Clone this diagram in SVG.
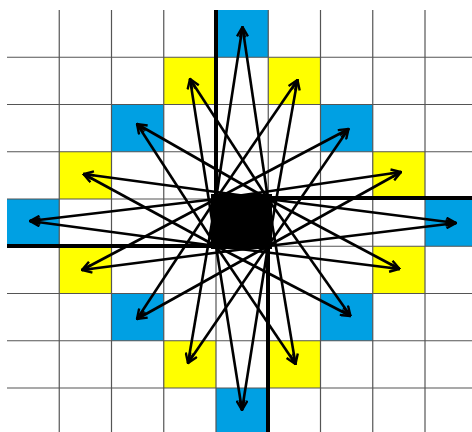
<svg xmlns="http://www.w3.org/2000/svg" width="472" height="432" viewBox="0 0 472 432">
<style>
.grid line{stroke:#555;stroke-width:1.2}
.thick{stroke:#000;stroke-width:4}
.blue{fill:#00A0E3}
.yellow{fill:#FFFF00}
.arr line{stroke:#000;stroke-width:2.6;marker-end:url(#ah)}
</style>
<defs>
<marker id="ah" viewBox="0 0 12 10" refX="11" refY="5" markerWidth="12" markerHeight="10" orient="auto" markerUnits="userSpaceOnUse">
<path d="M1,1 L11,5 L1,9" fill="none" stroke="#000" stroke-width="2.4"/>
</marker>
</defs>
<rect width="472" height="432" fill="#fff"/>
<g id="cells">
<g id="c-0-m4"><rect class="blue" x="216" y="10" width="52.25" height="47.25"/></g>
<g id="c-1-m3"><rect class="yellow" x="268.25" y="57.25" width="52.25" height="47.25"/></g>
<g id="c-2-m2"><rect class="blue" x="320.5" y="104.5" width="52.25" height="47.25"/></g>
<g id="c-3-m1"><rect class="yellow" x="372.75" y="151.75" width="52.25" height="47.25"/></g>
<g id="c-4-0"><rect class="blue" x="425" y="199" width="52.25" height="47.25"/></g>
<g id="c-3-1"><rect class="yellow" x="372.75" y="246.25" width="52.25" height="47.25"/></g>
<g id="c-2-2"><rect class="blue" x="320.5" y="293.5" width="52.25" height="47.25"/></g>
<g id="c-1-3"><rect class="yellow" x="268.25" y="340.75" width="52.25" height="47.25"/></g>
<g id="c-0-4"><rect class="blue" x="216" y="388" width="52.25" height="47.25"/></g>
<g id="c-m1-3"><rect class="yellow" x="163.75" y="340.75" width="52.25" height="47.25"/></g>
<g id="c-m2-2"><rect class="blue" x="111.5" y="293.5" width="52.25" height="47.25"/></g>
<g id="c-m3-1"><rect class="yellow" x="59.25" y="246.25" width="52.25" height="47.25"/></g>
<g id="c-m4-0"><rect class="blue" x="7" y="199" width="52.25" height="47.25"/></g>
<g id="c-m3-m1"><rect class="yellow" x="59.25" y="151.75" width="52.25" height="47.25"/></g>
<g id="c-m2-m2"><rect class="blue" x="111.5" y="104.5" width="52.25" height="47.25"/></g>
<g id="c-m1-m3"><rect class="yellow" x="163.75" y="57.25" width="52.25" height="47.25"/></g>
</g>
<g class="grid">
<line x1="59.25" y1="10" x2="59.25" y2="432"/>
<line x1="111.5" y1="10" x2="111.5" y2="432"/>
<line x1="163.75" y1="10" x2="163.75" y2="432"/>
<line x1="216" y1="10" x2="216" y2="432"/>
<line x1="268.25" y1="10" x2="268.25" y2="432"/>
<line x1="320.5" y1="10" x2="320.5" y2="432"/>
<line x1="372.75" y1="10" x2="372.75" y2="432"/>
<line x1="425" y1="10" x2="425" y2="432"/>
<line x1="7" y1="57.25" x2="472" y2="57.25"/>
<line x1="7" y1="104.5" x2="472" y2="104.5"/>
<line x1="7" y1="151.75" x2="472" y2="151.75"/>
<line x1="7" y1="199" x2="472" y2="199"/>
<line x1="7" y1="246.25" x2="472" y2="246.25"/>
<line x1="7" y1="293.5" x2="472" y2="293.5"/>
<line x1="7" y1="340.75" x2="472" y2="340.75"/>
<line x1="7" y1="388" x2="472" y2="388"/>
</g>
<g id="thick-lines">
<line class="thick" x1="216" y1="10" x2="216" y2="199"/>
<line class="thick" x1="268" y1="198" x2="472" y2="198"/>
<line class="thick" x1="268" y1="246" x2="268" y2="432"/>
<line class="thick" x1="7" y1="246" x2="216" y2="246"/>
</g>
<g id="center"><rect x="211" y="194" width="61" height="55" fill="#000"/></g>
<g id="connectors" class="arr">
<line x1="216" y1="199" x2="242.5" y2="27"/>
<line x1="268" y1="199" x2="242.5" y2="27"/>
<line x1="216" y1="199" x2="297.5" y2="80"/>
<line x1="268" y1="246" x2="297.5" y2="80"/>
<line x1="216" y1="199" x2="348.5" y2="129"/>
<line x1="268" y1="246" x2="348.5" y2="129"/>
<line x1="216" y1="199" x2="401" y2="172"/>
<line x1="268" y1="246" x2="401" y2="172"/>
<line x1="268" y1="199" x2="456" y2="223"/>
<line x1="268" y1="246" x2="456" y2="223"/>
<line x1="268" y1="199" x2="399.5" y2="269"/>
<line x1="216" y1="246" x2="399.5" y2="269"/>
<line x1="268" y1="199" x2="350.5" y2="316"/>
<line x1="216" y1="246" x2="350.5" y2="316"/>
<line x1="268" y1="199" x2="295.5" y2="364"/>
<line x1="216" y1="246" x2="295.5" y2="364"/>
<line x1="216" y1="246" x2="242" y2="410"/>
<line x1="268" y1="246" x2="242" y2="410"/>
<line x1="216" y1="199" x2="188" y2="363"/>
<line x1="268" y1="246" x2="188" y2="363"/>
<line x1="216" y1="199" x2="137" y2="319"/>
<line x1="268" y1="246" x2="137" y2="319"/>
<line x1="216" y1="199" x2="82" y2="270"/>
<line x1="268" y1="246" x2="82" y2="270"/>
<line x1="216" y1="199" x2="30" y2="221"/>
<line x1="216" y1="246" x2="30" y2="221"/>
<line x1="268" y1="199" x2="83.5" y2="174"/>
<line x1="216" y1="246" x2="83.5" y2="174"/>
<line x1="268" y1="199" x2="137" y2="124"/>
<line x1="216" y1="246" x2="137" y2="124"/>
<line x1="268" y1="199" x2="190" y2="79"/>
<line x1="216" y1="246" x2="190" y2="79"/>
</g>
</svg>
